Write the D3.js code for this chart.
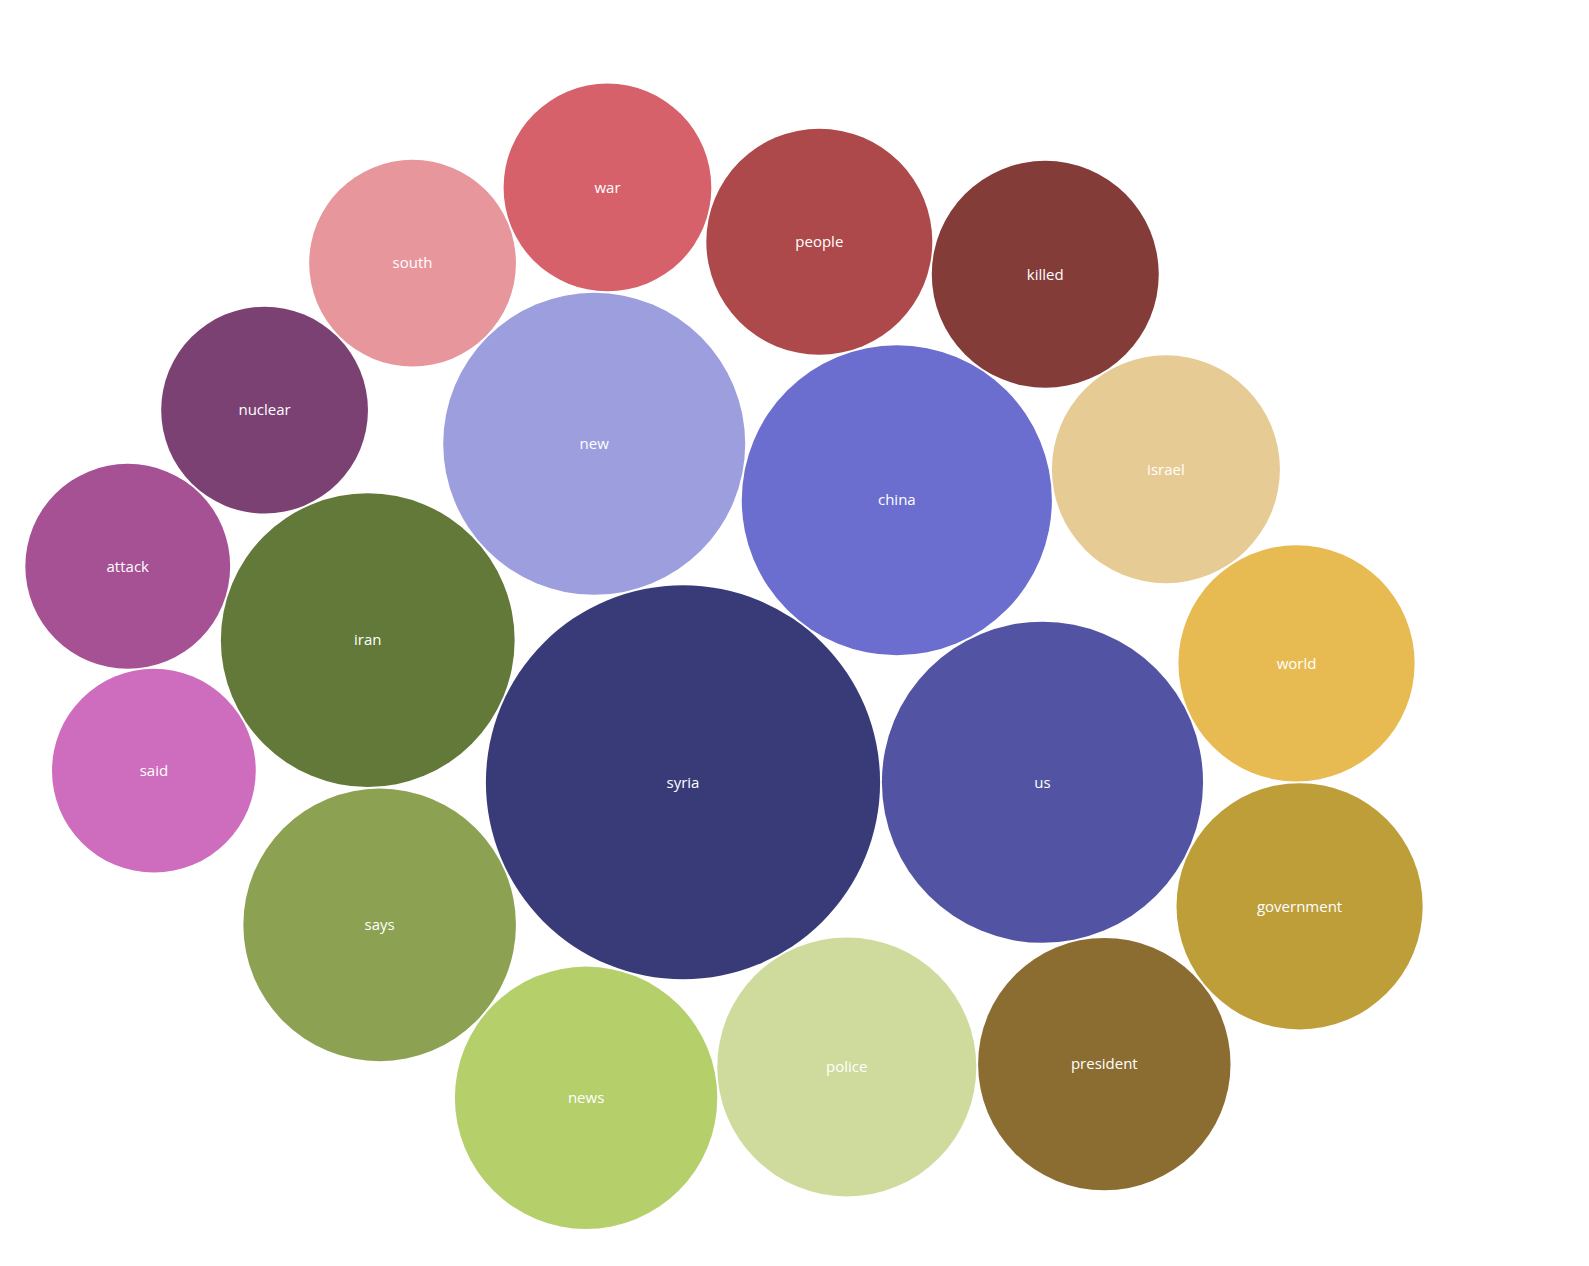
<!DOCTYPE html>
<html>
<head>
<meta charset="utf-8">
<script src="https://cdn.jsdelivr.net/npm/d3@7"></script>
<style>
  html, body { margin: 0; padding: 0; background: #fff; }
  svg { display: block; }
  text { font-family: "Open Sans", "DejaVu Sans", sans-serif; font-size: 15px; fill: #fff; }
</style>
</head>
<body>
<svg id="chart" width="1589" height="1266"></svg>
<script>
const words = ["syria","us","china","new","iran","says","news","police","president","government","world","israel","killed","people","war","south","nuclear","attack","said"];
const counts = [388.5,257.9,240.4,228.0,215.8,185.8,172.1,167.8,159.3,151.5,139.5,130.0,128.8,127.7,107.9,106.9,106.9,104.9,103.8];
const palette = ["#393b79","#5254a3","#6b6ecf","#9c9ede","#637939","#8ca252","#b5cf6b","#cedb9c","#8c6d31","#bd9e39","#e7ba52","#e7cb94","#843c39","#ad494a","#d6616b","#e7969c","#7b4173","#a55194","#ce6dbd","#de9ed6"];

const width = 1589, height = 1266;
const padding = 1.8;
const center = [724, 656.3];

const color = d3.scaleOrdinal().domain(words).range(palette);
const rScale = d3.scaleSqrt().domain([0, d3.max(counts)]).range([0, 197.1]);

// front-chain sibling packing (classic d3 v3 bubble layout)
function packSiblings(nodes) {
  const n = nodes.length;
  let xMin = Infinity, xMax = -Infinity, yMin = Infinity, yMax = -Infinity;
  function bound(d) {
    xMin = Math.min(d.x - d.r, xMin); xMax = Math.max(d.x + d.r, xMax);
    yMin = Math.min(d.y - d.r, yMin); yMax = Math.max(d.y + d.r, yMax);
  }
  function place(a, b, c) {
    let db = a.r + c.r; const dx = b.x - a.x, dy = b.y - a.y;
    if (db && (dx || dy)) {
      let da = b.r + c.r; const dc = dx * dx + dy * dy;
      da *= da; db *= db;
      const x = 0.5 + (db - da) / (2 * dc);
      const y = Math.sqrt(Math.max(0, 2 * da * (db + dc) - (db -= dc) * db - da * da)) / (2 * dc);
      c.x = a.x + x * dx + y * dy;
      c.y = a.y + x * dy - y * dx;
    } else { c.x = a.x + db; c.y = a.y; }
  }
  function insert(a, b) { const c = a.next; a.next = b; b.prev = a; b.next = c; c.prev = b; }
  function splice(a, b) { a.next = b; b.prev = a; }
  function intersects(a, b) {
    const dx = b.x - a.x, dy = b.y - a.y, dr = a.r + b.r;
    return 0.999 * dr * dr > dx * dx + dy * dy;
  }
  nodes.forEach(d => { d.next = d.prev = d; });
  let a = nodes[0], b, c, i, j, k;
  a.x = -a.r; a.y = 0; bound(a);
  if (n > 1) {
    b = nodes[1]; b.x = b.r; b.y = 0; bound(b);
    if (n > 2) {
      c = nodes[2]; place(a, b, c); bound(c);
      insert(a, c); a.prev = c; insert(c, b); b = a.next;
      for (i = 3; i < n; i++) {
        place(a, b, c = nodes[i]);
        let isect = 0, s1 = 1, s2 = 1;
        for (j = b.next; j !== b; j = j.next, s1++) {
          if (intersects(j, c)) { isect = 1; break; }
        }
        if (isect === 1) {
          for (k = a.prev; k !== j.prev; k = k.prev, s2++) {
            if (intersects(k, c)) break;
          }
        }
        if (isect) {
          if (s1 < s2 || (s1 === s2 && b.r < a.r)) splice(a, b = j);
          else splice(a = k, b);
          i--;
        } else {
          insert(a, c); b = c; bound(c);
        }
      }
    }
  }
  const cx = (xMin + xMax) / 2, cy = (yMin + yMax) / 2;
  nodes.forEach(d => { d.x -= cx; d.y -= cy; delete d.next; delete d.prev; });
  return nodes;
}

const nodes = words.map((w, i) => ({ word: w, count: counts[i], r: rScale(counts[i]) + padding / 2 }));
packSiblings(nodes);
nodes.forEach(d => { d.r -= padding / 2; });

const x = d3.scaleLinear().domain([0, 1]).range([center[0], center[0] + 1]);
const y = d3.scaleLinear().domain([0, 1]).range([center[1], center[1] + 1]);

const svg = d3.select("#chart");
const node = svg.selectAll("g.node").data(nodes).join("g")
  .attr("class", "node")
  .attr("transform", d => `translate(${x(d.x)},${y(d.y)})`);
node.append("circle").attr("r", d => d.r).attr("fill", d => color(d.word));
node.append("text").attr("text-anchor", "middle").attr("dy", "0.35em").text(d => d.word);
</script>
</body>
</html>
